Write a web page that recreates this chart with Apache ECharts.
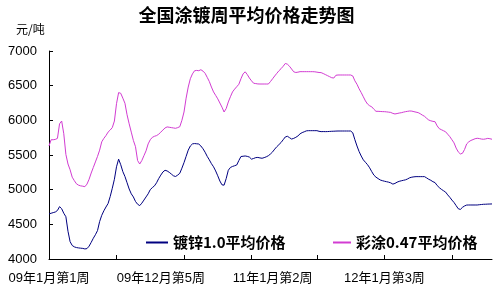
<!DOCTYPE html>
<html>
<head>
<meta charset="utf-8">
<script src="https://cdn.jsdelivr.net/npm/echarts@6/dist/echarts.min.js"></script>
<style>html,body{margin:0;padding:0;background:#fff}#c{width:493px;height:293px}</style>
</head>
<body>
<div id="c"></div>
<script>
// Shown x-axis labels and the week index each one sits on
const tickLabels = ['09年1月第1周', '09年12月第5周', '11年1月第2周', '12年1月第3周'];
const tickLabelWeeks = [0, 53, 106, 159];
const tickMarkWeeks = [0, 32, 64, 96, 127, 159, 191];

const galvName = '镀锌1.0平均价格';
const colorName = '彩涂0.47平均价格';

const galvValues = [
  4650, 4660, 4669, 4678, 4700, 4755, 4725, 4660, 4610, 4400,
  4250, 4195, 4175, 4165, 4160, 4156, 4153, 4145, 4150, 4185,
  4240, 4299, 4350, 4410, 4540, 4630, 4695, 4750, 4800, 4900,
  5020, 5150, 5330, 5440, 5360, 5260, 5190, 5100, 5010, 4940,
  4895, 4830, 4790, 4770, 4805, 4850, 4895, 4940, 5000, 5030,
  5055, 5100, 5160, 5210, 5255, 5280, 5270, 5250, 5225, 5200,
  5190, 5210, 5236, 5310, 5390, 5480, 5570, 5630, 5660, 5665,
  5662, 5658, 5630, 5590, 5540, 5480, 5430, 5375, 5330, 5270,
  5200, 5125, 5070, 5065, 5160, 5280, 5320, 5335, 5345, 5356,
  5420, 5478, 5482, 5486, 5480, 5470, 5440, 5450, 5462, 5465,
  5458, 5453, 5462, 5474, 5490, 5515, 5545, 5585, 5620, 5650,
  5680, 5720, 5760, 5770, 5750, 5730, 5740, 5755, 5775, 5805,
  5823, 5835, 5848, 5851, 5851, 5851, 5851, 5851, 5842, 5837,
  5838, 5837, 5838, 5840, 5842, 5843, 5845, 5846, 5846, 5846,
  5846, 5846, 5846, 5846, 5820, 5720, 5630, 5550, 5485, 5430,
  5395, 5360, 5315, 5260, 5210, 5180, 5160, 5140, 5130, 5122,
  5115, 5108, 5098, 5080, 5090, 5108, 5120, 5128, 5135, 5142,
  5155, 5172, 5180, 5185, 5188, 5188, 5188, 5188, 5188, 5170,
  5150, 5135, 5115, 5102, 5060, 5030, 5005, 4985, 4965, 4925,
  4890, 4850, 4815, 4770, 4725, 4715, 4745, 4765, 4778, 4779,
  4779, 4779, 4779, 4779, 4783, 4786, 4789, 4790, 4792, 4793,
  4794
];

const colorValues = [
  5630, 5720, 5720, 5725, 5740, 5950, 5990, 5807, 5508, 5370,
  5287, 5180, 5130, 5085, 5065, 5055, 5050, 5043, 5080, 5150,
  5240, 5320, 5400, 5480, 5570, 5690, 5740, 5780, 5830, 5860,
  5895, 5990, 6240, 6400, 6390, 6320, 6246, 6080, 5950, 5830,
  5710, 5620, 5420, 5370, 5420, 5490, 5560, 5660, 5720, 5755,
  5770, 5780, 5800, 5830, 5860, 5890, 5905, 5900, 5895, 5890,
  5885, 5895, 5908, 6000, 6120, 6320, 6480, 6600, 6670, 6715,
  6720, 6716, 6730, 6710, 6678, 6620, 6560, 6480, 6410, 6360,
  6310, 6250, 6190, 6120, 6170, 6265, 6340, 6410, 6450, 6485,
  6520, 6600, 6670, 6700, 6660, 6610, 6570, 6535, 6530, 6525,
  6524, 6524, 6524, 6524, 6524, 6560, 6600, 6640, 6678, 6715,
  6745, 6780, 6820, 6810, 6780, 6740, 6700, 6690, 6695, 6702,
  6702, 6702, 6702, 6702, 6702, 6702, 6700, 6695, 6690, 6688,
  6675, 6660, 6645, 6630, 6615, 6610, 6650, 6654, 6654, 6654,
  6654, 6654, 6654, 6654, 6640, 6570, 6520, 6455, 6400, 6340,
  6280, 6235, 6210, 6195, 6160, 6130, 6130, 6128, 6126, 6125,
  6122, 6118, 6114, 6100, 6092, 6098, 6105, 6110, 6118, 6125,
  6130, 6135, 6133, 6125, 6118, 6111, 6095, 6075, 6058, 6030,
  6005, 5993, 5985, 5980, 5920, 5880, 5865, 5850, 5835, 5800,
  5765, 5720, 5675, 5600, 5545, 5515, 5525, 5580, 5660, 5690,
  5710, 5722, 5735, 5741, 5737, 5730, 5727, 5732, 5740, 5735,
  5727
];

// week categories; the labelled ones carry their names
const categories = galvValues.map((_, i) => {
  const k = tickLabelWeeks.indexOf(i);
  return k >= 0 ? tickLabels[k] : 'W' + i;
});

const latin = '"Liberation Sans", Arial, "Noto Sans CJK SC", sans-serif';
const cjk = '"Noto Sans CJK SC", "Liberation Sans", sans-serif';

const chart = echarts.init(document.getElementById('c'));
chart.setOption({
  backgroundColor: '#fff',
  animation: false,
  title: {
    text: '全国涂镀周平均价格走势图',
    left: 'center', top: 1,
    textStyle: { fontFamily: cjk, fontSize: 18, fontWeight: 'bold', color: '#000' }
  },
  graphic: [{
    type: 'text', left: 16, top: 23,
    style: { text: '元/吨', fontFamily: cjk, fontSize: 12, fill: '#000' }
  }],
  legend: [
    {
      data: [galvName], left: 141, top: 230, itemWidth: 22, itemHeight: 2, icon: 'rect', itemGap: 0,
      textStyle: { fontFamily: cjk, fontSize: 15, fontWeight: 'bold', color: '#000' }
    },
    {
      data: [colorName], left: 328, top: 230, itemWidth: 18, itemHeight: 2, icon: 'rect', itemGap: 0,
      textStyle: { fontFamily: cjk, fontSize: 15, fontWeight: 'bold', color: '#000' }
    }
  ],
  grid: { left: 49, right: 1, top: 51, bottom: 34, containLabel: false },
  xAxis: {
    type: 'category',
    data: categories,
    boundaryGap: false,
    axisLine: { lineStyle: { color: '#000', width: 1 } },
    axisTick: {
      inside: true, length: 4, lineStyle: { color: '#000' },
      interval: (i) => tickMarkWeeks.indexOf(i) >= 0
    },
    axisLabel: {
      interval: 52, margin: 13, color: '#000',
      fontFamily: latin, fontSize: 13
    },
    splitLine: { show: false }
  },
  yAxis: {
    type: 'value', min: 4000, max: 7000, interval: 500,
    axisLine: { show: true, lineStyle: { color: '#000', width: 1 } },
    axisTick: { show: true, inside: true, length: 4, lineStyle: { color: '#000' } },
    axisLabel: {
      color: '#000', fontFamily: latin, fontSize: 13, margin: 12,
      formatter: (v) => String(v)
    },
    splitLine: { show: false }
  },
  series: [
    {
      name: galvName, type: 'line', data: galvValues, symbol: 'none',
      lineStyle: { color: '#000080', width: 1 }, itemStyle: { color: '#000080' }
    },
    {
      name: colorName, type: 'line', data: colorValues, symbol: 'none',
      lineStyle: { color: '#d23cd2', width: 1 }, itemStyle: { color: '#d23cd2' }
    }
  ]
});
</script>
</body>
</html>
